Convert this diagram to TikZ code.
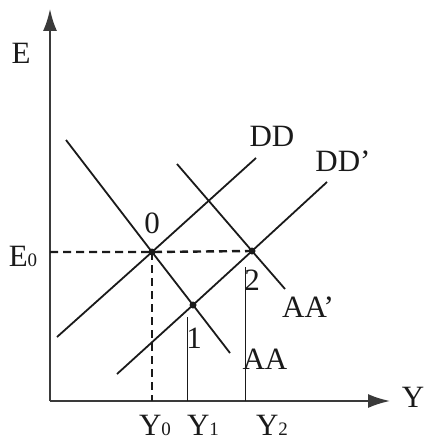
\documentclass[tikz,border=0pt]{standalone}
\usepackage{fontspec}
\setmainfont{Liberation Serif}
\usetikzlibrary{arrows.meta}
\definecolor{ink}{HTML}{1A1A1A}
\definecolor{axisink}{HTML}{3A3A3A}
\newcommand{\lowsub}[1]{{\fontsize{19}{19}\selectfont #1}}
\tikzset{
  axis/.style={
    draw=axisink,
    line width=2pt,
    -{Latex[length=22pt, width=14pt]}
  },
  curve/.style={draw=ink, line width=1.8pt},
  guide/.style={draw=ink, line width=2.4pt, dash pattern=on 8pt off 5pt},
  drop/.style={draw=ink, line width=0.9pt},
  label/.style={font=\fontsize{31}{33}\selectfont, inner sep=0pt, text=ink},
  eqpoint/.style={circle, fill=ink, minimum size=7pt, inner sep=0pt}
}

\begin{document}
\begin{tikzpicture}[x=1pt, y=-1pt]

\useasboundingbox (0,0) rectangle (424,441);

\coordinate (origin) at (50,401);
\coordinate (ytop) at (50,9);
\coordinate (xend) at (390,401);

\node[eqpoint] (p0) at (152,252) {};
\node[eqpoint] (p1) at (193,305) {};
\node[eqpoint] (p2) at (252,251) {};

\coordinate (aa-top) at (66,140);
\coordinate (aa-end) at (230,353);
\coordinate (aa2-top) at (177,164);
\coordinate (aa2-end) at (285,289);
\coordinate (dd-low) at (57,337);
\coordinate (dd-top) at (256,158);
\coordinate (dd2-low) at (117,374);
\coordinate (dd2-top) at (327,182);

\coordinate (e0) at (50,252);
\coordinate (y0) at (152,401);
\coordinate (y1) at (187,401);
\coordinate (y1-top) at (187,317);
\coordinate (y2) at (245,401);
\coordinate (y2-top) at (245,267);

\draw[axis] (origin) -- (ytop);
\draw[axis] (origin) -- (xend);

\draw[guide] (e0) -- (p0.center) -- (p2.center);
\draw[guide] (p0.center) -- (y0);
\draw[drop] (y1) -- (y1-top);
\draw[drop] (y2) -- (y2-top);

\draw[curve] (aa-top) -- (p0.center) -- (p1.center) -- (aa-end);
\draw[curve] (aa2-top) -- (p2.center) -- (aa2-end);
\draw[curve] (dd-low) -- (p0.center) -- (dd-top);
\draw[curve] (dd2-low) -- (p1.center) -- (p2.center) -- (dd2-top);

\node[label] (elabel) at (21,53) {E};
\node[label] (ylabel) at (413,397) {Y};
\node[label] (e0label) at (23,256) {E\lowsub{0}};
\node[label] (y0label) at (155,425) {Y\lowsub{0}};
\node[label] (y1label) at (203,425) {Y\lowsub{1}};
\node[label] (y2label) at (272,425) {Y\lowsub{2}};
\node[label] (ddlabel) at (272,136) {DD};
\node[label] (dd2label) at (343,161) {DD'};
\node[label] (aalabel) at (265,359) {AA};
\node[label] (aa2label) at (308,307) {AA'};
\node[label] (p0label) at (152,223) {0};
\node[label] (p1label) at (194,338) {1};
\node[label] (p2label) at (252,280) {2};

\end{tikzpicture}
\end{document}
